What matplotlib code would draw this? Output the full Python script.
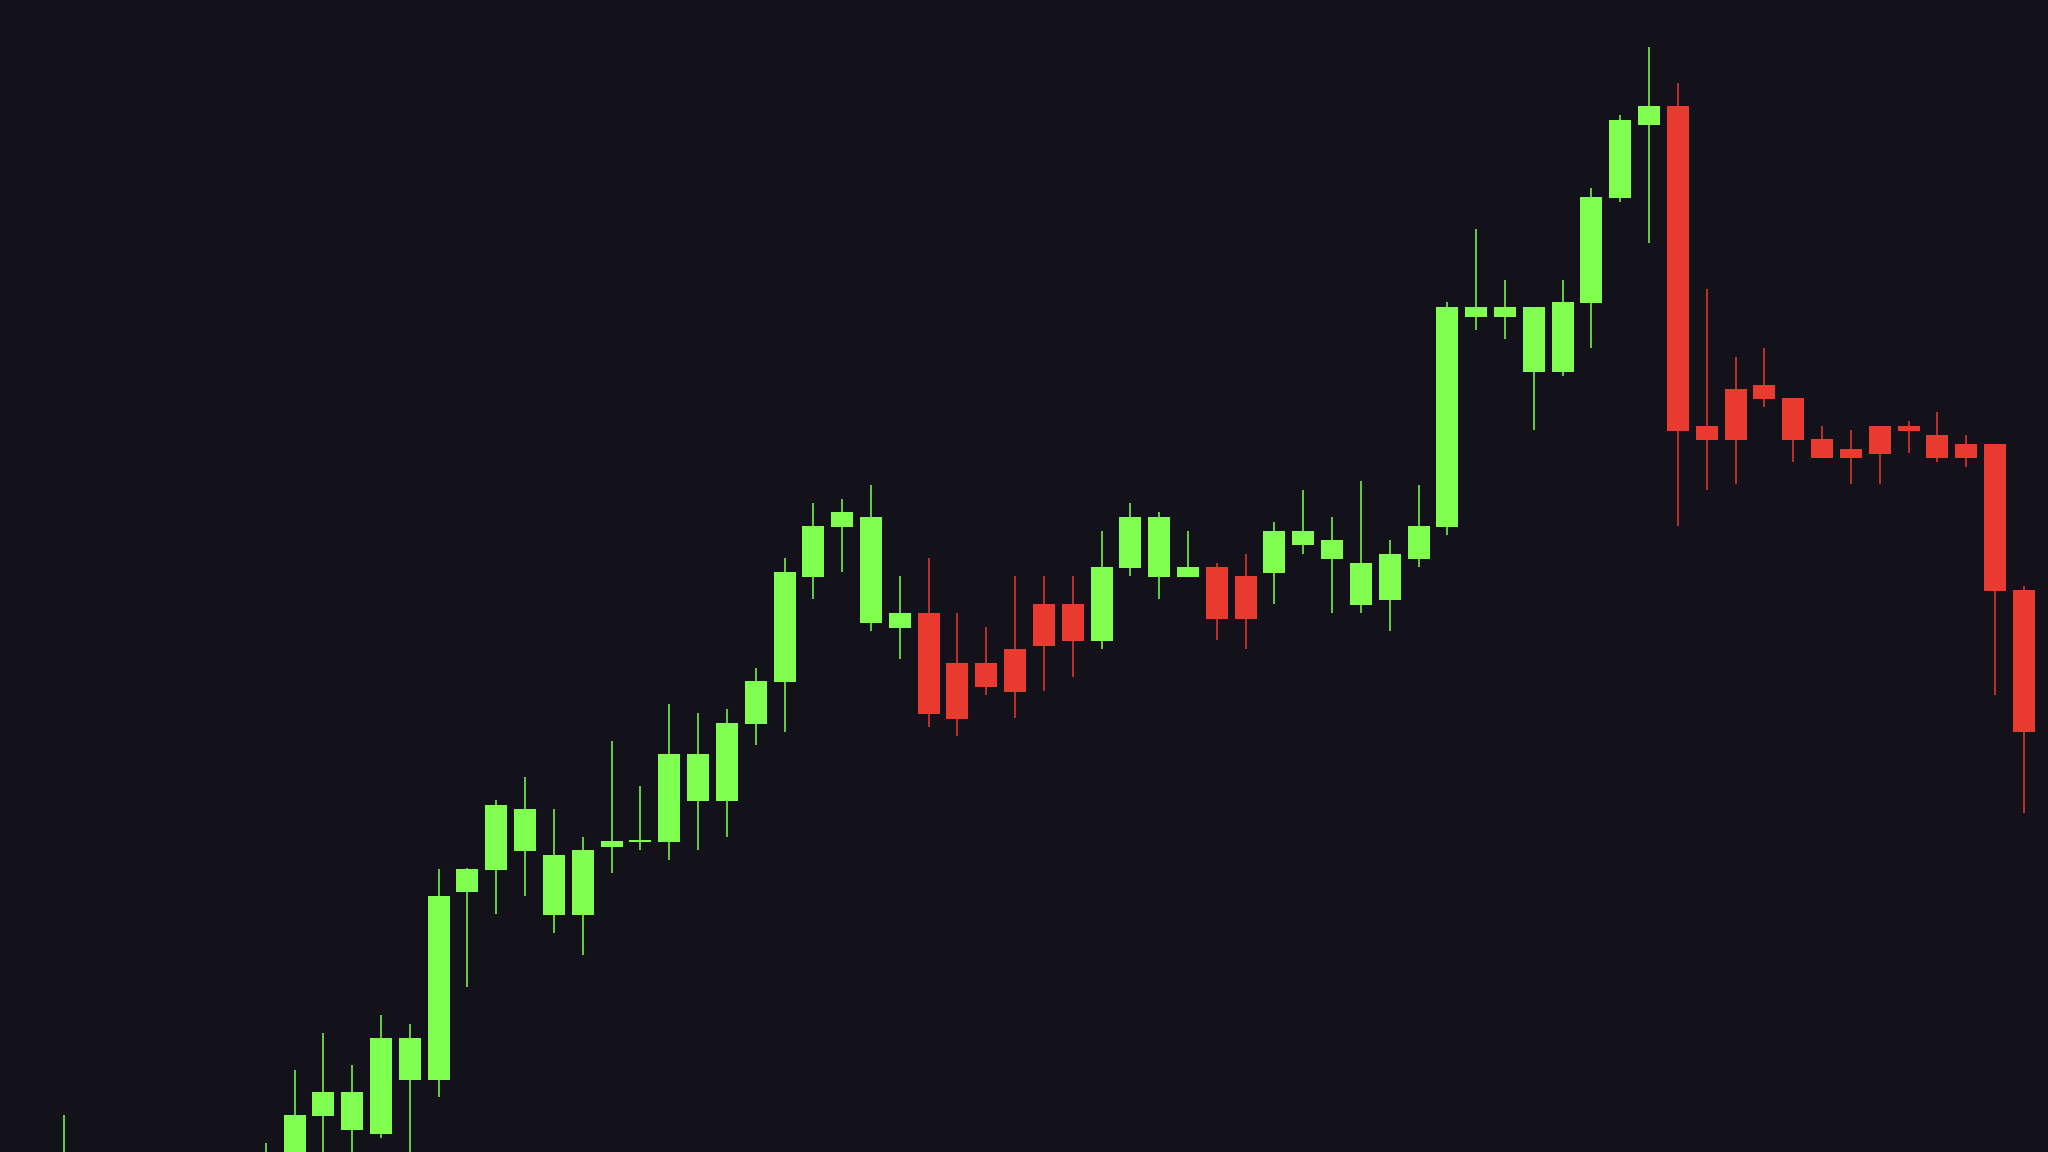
import numpy as np
import matplotlib
matplotlib.use("Agg")
import matplotlib.pyplot as plt

# OHLC values (price units; first candles lie below the visible range)
opens = [97.5, 99.2, 97.0, 95.8, 97.3, 96.6, 98.0, 97.6, 99.0, 103.6,
         102.2, 101.8, 107.2, 107.2, 126.0, 128.2, 130.1, 123.7, 123.7, 130.5,
         131.0, 131.0, 135.1, 135.1, 142.8, 147.0, 157.5, 162.5, 152.9, 152.4,
         153.9, 148.9, 148.9, 150.3, 154.8, 154.8, 151.1, 158.4, 157.5, 157.5,
         158.5, 157.6, 157.9, 160.7, 159.3, 154.7, 155.2, 159.3, 162.5, 183.5,
         183.5, 178.0, 178.0, 184.9, 195.4, 202.7, 204.6, 172.6, 176.3, 176.7,
         175.4, 171.3, 170.3, 172.6, 172.6, 171.7, 170.8, 170.8, 156.2]
highs = [103.7, 99.6, 98.1, 97.9, 98.8, 98.4, 99.5, 100.9, 108.2, 111.9,
         108.7, 113.7, 112.8, 128.3, 128.4, 135.2, 137.5, 134.3, 131.5, 141.1,
         136.6, 144.8, 143.9, 144.3, 148.4, 159.4, 164.9, 165.3, 166.7, 157.6,
         159.4, 153.9, 152.5, 157.6, 157.6, 157.6, 162.1, 164.9, 164.0, 162.1,
         158.9, 159.8, 163.0, 166.2, 163.5, 167.1, 161.2, 166.7, 185.0, 192.3,
         187.2, 184.5, 187.2, 196.4, 203.7, 210.5, 206.9, 186.3, 179.5, 180.4,
         175.4, 172.6, 172.2, 172.6, 173.1, 174.0, 171.7, 170.8, 156.6]
lows = [96.8, 96.5, 95.2, 95.0, 96.1, 95.9, 97.1, 96.8, 98.3, 99.6,
        99.4, 101.4, 99.6, 105.5, 116.5, 123.8, 125.6, 121.9, 119.7, 127.9,
        130.2, 129.2, 130.2, 131.5, 140.7, 142.0, 155.3, 158.0, 152.1, 149.3,
        142.5, 141.6, 145.7, 143.4, 146.1, 147.5, 150.3, 157.6, 155.3, 157.5,
        151.2, 150.3, 154.8, 159.8, 153.9, 153.9, 152.1, 158.5, 161.7, 182.2,
        181.3, 172.2, 177.6, 180.4, 195.0, 190.9, 162.6, 166.2, 166.8, 174.5,
        169.0, 169.4, 166.8, 166.8, 169.9, 169.0, 168.5, 145.7, 133.9]
closes = [99.2, 97.0, 95.8, 97.3, 96.6, 98.0, 97.6, 99.4, 103.7, 106.0,
          106.0, 111.4, 111.4, 125.6, 128.3, 134.7, 134.3, 129.7, 130.2, 131.1,
          131.2, 139.8, 139.8, 142.9, 147.1, 158.0, 162.6, 164.0, 163.5, 153.9,
          143.8, 143.3, 146.5, 146.0, 150.6, 151.1, 158.5, 163.5, 163.5, 158.5,
          153.3, 153.3, 162.1, 162.1, 161.2, 158.9, 159.8, 162.6, 184.5, 184.5,
          184.5, 184.5, 185.0, 195.5, 203.2, 204.6, 172.1, 171.2, 171.2, 175.3,
          171.2, 169.4, 169.4, 169.8, 172.1, 169.4, 169.4, 156.1, 142.0]

BG = "#13121a"
UP = "#80ff50"
DOWN = "#e83a2e"

o = np.array(opens)
h = np.array(highs)
l = np.array(lows)
c = np.array(closes)
x = np.arange(len(o))
colors = [UP if cc >= oo else DOWN for oo, cc in zip(o, c)]

fig = plt.figure(figsize=(20.48, 11.52), dpi=100, facecolor=BG)
ax = fig.add_axes([0, 0, 1, 1])
ax.set_facecolor(BG)

ax.vlines(x, l, h, colors=colors, linewidth=1.1, zorder=2)
ax.bar(x, np.abs(c - o), bottom=np.minimum(o, c), width=0.763,
       color=colors, linewidth=0, zorder=3)

ax.set_xlim(-2.221, 68.84)
ax.set_ylim(100, 215.2)
ax.axis("off")

fig.savefig("out.png", dpi=100, facecolor=BG)
